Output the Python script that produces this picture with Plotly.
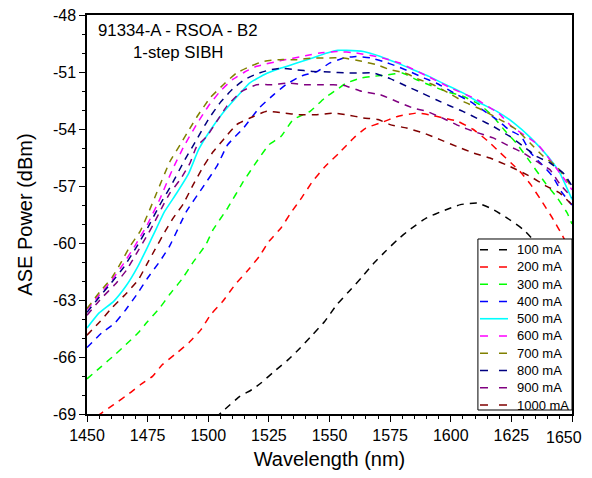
import plotly.graph_objects as go

# ---------------- data ----------------
black_x = [1503, 1507, 1513, 1518, 1522, 1528, 1533, 1538, 1543, 1548, 1553, 1558, 1563, 1568, 1573, 1578, 1583, 1590, 1597, 1604, 1611, 1617, 1624, 1630, 1636, 1642, 1650]
black_y = [-69.2, -68.74, -68.07, -67.72, -67.34, -66.67, -66.14, -65.51, -64.83, -64.13, -63.25, -62.55, -61.85, -61.1, -60.45, -59.83, -59.3, -58.68, -58.3, -57.98, -57.9, -58.2, -58.75, -59.3, -60.1, -61.0, -62.5]

red_x = [1450, 1456, 1461, 1468, 1472, 1477, 1481, 1487, 1492, 1497, 1501, 1506, 1511, 1516, 1521, 1525, 1530, 1534, 1538, 1543, 1548, 1554, 1560, 1565, 1571, 1578, 1586, 1591, 1597, 1603, 1609, 1615, 1620, 1625, 1629, 1633, 1637, 1642, 1646, 1650]
red_y = [-69.5, -68.95, -68.51, -67.86, -67.46, -67.02, -66.41, -65.79, -65.25, -64.56, -63.77, -63.07, -62.2, -61.49, -60.71, -59.92, -59.21, -58.42, -57.72, -56.76, -56.0, -55.26, -54.47, -53.95, -53.68, -53.34, -53.16, -53.25, -53.42, -53.6, -54.0, -54.6, -55.2, -55.8, -56.3, -56.93, -57.7, -58.7, -59.6, -60.6]

green_x = [1450, 1456, 1461.5, 1466, 1471, 1475, 1480, 1484, 1489, 1494, 1499, 1502, 1508, 1514.5, 1520, 1525, 1530, 1535, 1542, 1548, 1553, 1557, 1563, 1568, 1574, 1580, 1586, 1591, 1598, 1605, 1612, 1617.5, 1622, 1627, 1632, 1639, 1644, 1648, 1650]
green_y = [-67.15, -66.49, -65.88, -65.35, -64.74, -64.13, -63.42, -62.72, -61.93, -60.97, -60.09, -59.3, -58.16, -56.76, -55.71, -54.83, -54.39, -53.51, -53.07, -52.37, -51.93, -51.58, -51.32, -51.23, -51.15, -51.05, -51.41, -51.67, -52.02, -52.28, -52.72, -53.34, -54.04, -54.74, -55.6, -56.84, -57.63, -58.42, -59.0]

blue_x = [1450, 1456, 1461.5, 1466, 1471, 1475, 1480, 1484, 1491, 1498, 1503.5, 1508, 1514.5, 1521, 1527, 1532, 1538, 1545, 1550, 1556, 1561, 1567, 1572, 1578, 1583, 1589, 1594, 1602.5, 1608, 1613, 1619, 1624, 1629, 1633, 1637, 1642, 1646, 1650]
blue_y = [-65.5, -64.74, -64.21, -63.51, -62.63, -61.84, -60.97, -60.18, -58.34, -57.02, -55.97, -54.83, -53.95, -52.89, -52.19, -51.67, -51.23, -50.97, -50.53, -50.26, -50.18, -50.26, -50.44, -50.71, -50.97, -51.32, -51.58, -52.19, -52.55, -52.98, -53.51, -54.04, -54.39, -55.26, -55.79, -56.49, -57.37, -58.0]

cyan_x = [1450, 1455, 1461, 1466, 1471, 1475, 1478, 1482, 1487, 1492, 1496, 1501, 1506, 1512, 1517, 1523, 1530, 1536.5, 1543, 1549, 1553.5, 1557, 1564, 1571, 1578, 1584.5, 1591, 1598, 1605, 1612, 1619, 1626, 1633, 1640, 1645, 1650]
cyan_y = [-64.47, -63.68, -63.07, -62.28, -61.23, -60.2, -59.4, -58.34, -57.37, -56.32, -55.09, -54.04, -53.16, -52.28, -51.58, -51.14, -50.79, -50.53, -50.26, -50.0, -49.86, -49.86, -49.92, -50.18, -50.53, -50.88, -51.23, -51.67, -52.1, -52.63, -53.07, -53.68, -54.47, -55.44, -56.32, -57.7]

magenta_x = [1450, 1455, 1460, 1465, 1470, 1475, 1480, 1485, 1490, 1495, 1500, 1505, 1510, 1515, 1520, 1530, 1540, 1546, 1553, 1561, 1570, 1579, 1590, 1600, 1610, 1620, 1625, 1636, 1646, 1650]
magenta_y = [-63.5, -62.75, -62.0, -61.1, -60.1, -59.0, -57.7, -56.2, -54.9, -53.8, -52.8, -52.0, -51.4, -51.0, -50.7, -50.4, -50.15, -50.0, -49.92, -50.0, -50.2, -50.53, -51.2, -51.84, -52.4, -53.2, -53.86, -54.83, -56.49, -57.2]

olive_x = [1450, 1455.4, 1460.2, 1464.3, 1467.7, 1471.9, 1475.3, 1478.7, 1484.2, 1488.4, 1492.5, 1495.9, 1500.7, 1506.2, 1511.7, 1517.2, 1522.7, 1529.6, 1536.5, 1543.3, 1548.8, 1555.7, 1563.3, 1569.5, 1575, 1581.1, 1587.3, 1592.8, 1599, 1605.2, 1613, 1621.7, 1627.2, 1632.7, 1638.2, 1643.7, 1647.8, 1650]
olive_y = [-63.45, -62.55, -61.84, -60.97, -60.18, -59.39, -58.42, -57.37, -55.71, -54.83, -53.95, -53.25, -52.37, -51.67, -51.05, -50.71, -50.44, -50.35, -50.35, -50.26, -50.26, -50.26, -50.44, -50.62, -50.88, -51.05, -51.41, -51.67, -52.1, -52.55, -53.0, -53.6, -54.04, -54.74, -55.44, -55.97, -56.67, -57.1]

navy_x = [1450, 1455, 1460, 1465, 1470, 1475, 1480, 1485, 1490, 1495, 1500, 1505, 1510, 1515, 1520, 1525, 1530, 1536, 1543, 1550, 1557, 1563, 1568, 1575, 1582, 1588, 1594, 1600, 1605, 1612, 1617.5, 1624.4, 1630, 1635.4, 1641, 1646.4, 1650]
navy_y = [-63.65, -62.85, -62.1, -61.3, -60.3, -59.2, -58.0, -56.9, -55.7, -54.6, -53.5, -52.6, -51.9, -51.4, -51.1, -50.9, -50.8, -50.88, -50.97, -51.0, -51.05, -51.05, -51.05, -51.35, -51.76, -52.1, -52.46, -52.8, -53.07, -53.51, -53.86, -54.39, -54.92, -55.44, -55.79, -56.32, -57.0]

purple_x = [1450, 1456, 1461.5, 1466.4, 1470.5, 1474.6, 1477.3, 1480.8, 1484.2, 1488.4, 1492.5, 1495.2, 1499.4, 1503.5, 1507.6, 1513.8, 1520, 1526.8, 1532.4, 1540, 1547.4, 1555.7, 1563.3, 1570.8, 1577.7, 1584.5, 1590.1, 1597, 1603.8, 1610, 1617.5, 1624.4, 1629.9, 1635.4, 1640.9, 1645, 1650]
purple_y = [-63.8, -62.9, -62.19, -61.41, -60.53, -59.65, -59.04, -58.16, -57.37, -56.67, -55.79, -54.92, -54.39, -53.6, -52.81, -52.02, -51.67, -51.67, -51.58, -51.67, -51.67, -51.7, -52.02, -52.19, -52.55, -52.9, -53.07, -53.45, -53.86, -54.15, -54.47, -54.92, -55.26, -55.71, -56.14, -56.9, -57.6]

maroon_x = [1450, 1455.4, 1460.2, 1466.4, 1471.2, 1474.6, 1478, 1482.2, 1485.6, 1489.7, 1493.8, 1498, 1502, 1506.2, 1511.7, 1517.2, 1524.1, 1531, 1537.8, 1544.7, 1551.6, 1557.1, 1564, 1570, 1575, 1581.8, 1588.7, 1595.6, 1602.5, 1609.3, 1616.2, 1624.4, 1632.7, 1639.6, 1645, 1650]
maroon_y = [-64.85, -64.13, -63.42, -62.63, -61.93, -61.14, -60.35, -59.39, -58.68, -57.94, -56.93, -55.97, -55.2, -54.56, -53.77, -53.42, -53.07, -53.16, -53.25, -53.25, -53.16, -53.25, -53.42, -53.5, -53.77, -53.95, -54.21, -54.56, -54.92, -55.26, -55.53, -55.97, -56.49, -57.02, -57.37, -58.0]

series_names = ["100 mA", "200 mA", "300 mA", "400 mA", "500 mA", "600 mA", "700 mA", "800 mA", "900 mA", "1000 mA"]
series_x = [black_x, red_x, green_x, blue_x, cyan_x, magenta_x, olive_x, navy_x, purple_x, maroon_x]
series_y = [black_y, red_y, green_y, blue_y, cyan_y, magenta_y, olive_y, navy_y, purple_y, maroon_y]
series_colors = ["#000000", "#FF0000", "#00FF00", "#0000FF", "#00FFFF", "#FF00FF", "#808000", "#000080", "#800080", "#800000"]
series_solid = [False, False, False, False, True, False, False, False, False, False]

x_tickvals = [1450, 1475, 1500, 1525, 1550, 1575, 1600, 1625, 1650]
x_ticktext = ["1450", "1475", "1500", "1525", "1550", "1575", "1600", "1625", "1650"]
y_tickvals = [-48, -51, -54, -57, -60, -63, -66, -69]
y_ticktext = ["-48", "-51", "-54", "-57", "-60", "-63", "-66", "-69"]

title_line1 = "91334-A - RSOA - B2"
title_line2 = "1-step SIBH"
x_title = "Wavelength (nm)"
y_title = "ASE Power (dBm)"

FONT = "Liberation Sans, Arial, sans-serif"
CURVE_DASH = "7px,6px"

fig = go.Figure()
for name, xs, ys, col, solid in zip(series_names, series_x, series_y, series_colors, series_solid):
    fig.add_trace(go.Scatter(
        x=xs, y=ys, mode="lines", name=name, showlegend=False,
        line=dict(color=col, width=1.6 if solid else 1.5,
                  dash="solid" if solid else CURVE_DASH,
                  shape="spline", smoothing=0.4),
    ))

# ---- boxed legend in the lower-right corner of the plot (paper coordinates) ----
LEG_X0, LEG_X1, LEG_Y0, LEG_Y1 = 0.806, 1.0, 0.010, 0.4386
ROW0, ROW_STEP = 0.4118, 0.04326           # centre of the first row, row spacing
SAMPLE_X0, SAMPLE_X1, TEXT_X = 0.8103, 0.868, 0.8825

shapes = [dict(type="rect", xref="paper", yref="paper",
               x0=LEG_X0, x1=LEG_X1, y0=LEG_Y0, y1=LEG_Y1,
               fillcolor="white", line=dict(color="black", width=1), layer="above")]
annotations = []
for i, (name, col, solid) in enumerate(zip(series_names, series_colors, series_solid)):
    yc = ROW0 - i * ROW_STEP
    shapes.append(dict(type="line", xref="paper", yref="paper",
                       x0=SAMPLE_X0, x1=SAMPLE_X1, y0=yc, y1=yc, layer="above",
                       line=dict(color=col, width=1.6 if solid else 1.5,
                                 dash="solid" if solid else "8px,11px")))
    annotations.append(dict(text=name, xref="paper", yref="paper", x=TEXT_X, y=yc,
                            xanchor="left", yanchor="middle", showarrow=False,
                            font=dict(family=FONT, size=13, color="black")))

annotations += [
    dict(text=title_line1, xref="paper", yref="paper", x=0.1866, y=0.96,
         xanchor="center", yanchor="middle", showarrow=False,
         font=dict(family=FONT, size=16.8, color="black")),
    dict(text=title_line2, xref="paper", yref="paper", x=0.1866, y=0.907,
         xanchor="center", yanchor="middle", showarrow=False,
         font=dict(family=FONT, size=16.8, color="black")),
    # the last x tick label would be cut at the window edge, so it is placed
    # right-aligned just inside the visible area
    dict(text=x_ticktext[-1], xref="paper", yref="paper", x=1.0247, y=-0.058,
         xanchor="right", yanchor="middle", showarrow=False,
         font=dict(family=FONT, size=16, color="black")),
]

shown_x_ticktext = x_ticktext[:-1] + [""]

# the page body has an 8px margin; the figure starts at (8, 8) in the window
fig.update_layout(
    width=584, height=462,
    margin=dict(l=79, r=20, t=7, b=56),
    paper_bgcolor="white", plot_bgcolor="white",
    font=dict(family=FONT, size=16, color="black"),
    showlegend=False,
    shapes=shapes,
    annotations=annotations,
    xaxis=dict(
        range=[1450, 1650], tickmode="array", tickvals=x_tickvals, ticktext=shown_x_ticktext,
        ticks="outside", ticklen=6, tickwidth=1.2, tickcolor="black",
        showline=True, linecolor="black", linewidth=1.5, mirror=True,
        showgrid=False, zeroline=False, automargin=False, ticklabeloverflow="allow",
        tickfont=dict(family=FONT, size=16),
        title=dict(text=x_title, font=dict(family=FONT, size=20), standoff=11),
        minor=dict(tickmode="linear", tick0=1450, dtick=5, ticks="outside", ticklen=3,
                   tickcolor="black", tickwidth=1, showgrid=False),
    ),
    yaxis=dict(
        range=[-69, -48], tickmode="array", tickvals=y_tickvals, ticktext=y_ticktext,
        ticks="outside", ticklen=6, tickwidth=1.2, tickcolor="black",
        showline=True, linecolor="black", linewidth=1.5, mirror=True,
        showgrid=False, zeroline=False, automargin=False, ticklabeloverflow="allow",
        tickfont=dict(family=FONT, size=16),
        title=dict(text=y_title, font=dict(family=FONT, size=20), standoff=15),
        minor=dict(tickmode="linear", tick0=-69, dtick=1, ticks="outside", ticklen=3,
                   tickcolor="black", tickwidth=1, showgrid=False),
    ),
)

fig.write_html("out.html")
